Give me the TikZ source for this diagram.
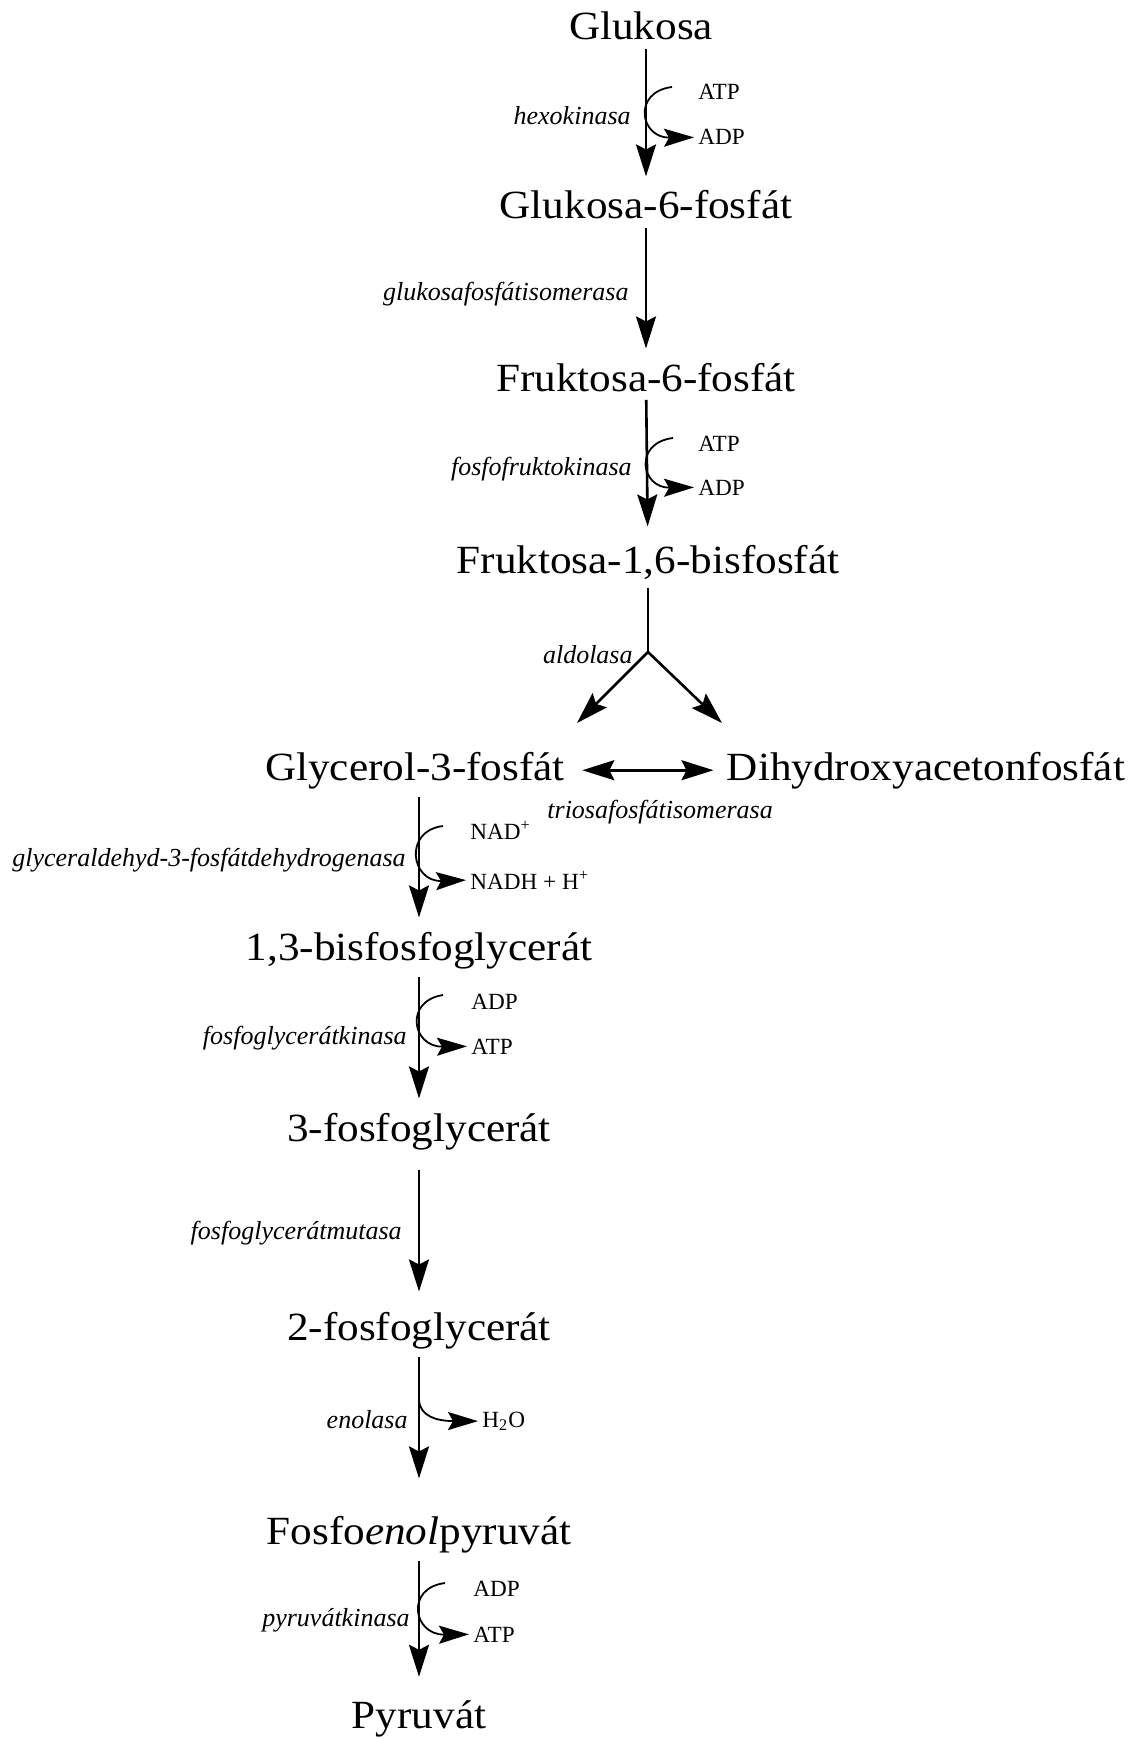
\documentclass[tikz,border=0pt]{standalone}
\usepackage{fontspec}
\setmainfont{Liberation Serif}
\newfontfamily\metfont{Liberation Serif}[FakeStretch=1.08]
\usetikzlibrary{arrows.meta}

\tikzset{
  met/.style={font=\metfont\fontsize{20}{24}\selectfont, inner sep=4pt, anchor=base},
  enz/.style={font=\fontsize{13}{15}\selectfont\itshape, inner sep=0pt, anchor=base east},
  cof/.style={font=\fontsize{11.6}{14}\selectfont, inner sep=2pt, anchor=base west},
  head/.style={-{Stealth[length=16pt,width=10pt,inset=2.5pt]}},
  reac/.style={line width=1.3pt, head, shorten >=3pt},
  side/.style={line width=0.9pt, -{Stealth[length=15pt,width=9pt,inset=2.5pt]}}
}

\begin{document}
\begin{tikzpicture}[x=0.5pt,y=-0.5pt]
  \useasboundingbox (0,0) rectangle (1135,1739);

  \node[met] (glc) at (641,40) {Glukosa};
  \node[met] (g6p) at (646,219) {Glukosa-6-fosfát};
  \node[met] (f6p) at (646,391) {Fruktosa-6-fosfát};
  \node[met] (f16) at (648,573) {Fruktosa-1,6-bisfosfát};
  \node[met] (g3p) at (415,780) {Glycerol-3-fosfát};
  \node[met] (dhap) at (926,780) {Dihydroxyacetonfosfát};
  \node[met] (bpg) at (419,960) {1,3-bisfosfoglycerát};
  \node[met] (pg3) at (419,1141) {3-fosfoglycerát};
  \node[met] (pg2) at (419,1340) {2-fosfoglycerát};
  \node[met] (pep) at (419,1544) {Fosfo\textit{enol}pyruvát};
  \node[met] (pyr) at (419,1728) {Pyruvát};

  \node[enz] (hk) at (631,125) {hexokinasa};
  \node[enz] (gpi) at (629,300) {glukosafosfátisomerasa};
  \node[enz] (pfk) at (632,475) {fosfofruktokinasa};
  \node[enz] (ald) at (633,663) {aldolasa};
  \node[enz,anchor=base west] (tpi) at (547,818) {triosafosfátisomerasa};
  \node[enz] (gapdh) at (406,866) {glyceraldehyd-3-fosfátdehydrogenasa};
  \node[enz] (pgk) at (407,1044) {fosfoglycerátkinasa};
  \node[enz] (pgm) at (402,1239) {fosfoglycerátmutasa};
  \node[enz] (eno) at (408,1428) {enolasa};
  \node[enz] (pk) at (410,1626) {pyruvátkinasa};

  \node[cof] (atp1) at (694,100) {ATP};
  \node[cof] (adp1) at (694,145) {ADP};
  \node[cof] (atp2) at (694,451) {ATP};
  \node[cof] (adp2) at (694,495) {ADP};
  \node[cof] (nad) at (466,839) {NAD\textsuperscript{+}};
  \node[cof] (nadh) at (466,889) {NADH + H\textsuperscript{+}};
  \node[cof] (adp3) at (467,1009) {ADP};
  \node[cof] (atp3) at (467,1054) {ATP};
  \node[cof] (h2o) at (478,1427) {H\textsubscript{2}O};
  \node[cof] (adp4) at (469,1596) {ADP};
  \node[cof] (atp4) at (469,1642) {ATP};

  \coordinate (split) at (648,652);
  \coordinate (splitL) at (577,723);
  \coordinate (splitR) at (722,723);
  \coordinate (s1) at (672,87);
  \coordinate (s2) at (673,438);
  \coordinate (s3) at (443,826);
  \coordinate (s4) at (443,995);
  \coordinate (s5) at (419,1386);
  \coordinate (s6) at (445,1583);

  \draw[reac] (glc.south -| g6p) -- (g6p);
  \draw[reac] (g6p) -- (f6p);
  \draw[reac,shorten >=5pt] (f6p) -- (f16);
  \draw[line width=1.3pt] (f16) -- (split);
  \draw[reac,shorten >=0pt] (split) -- (splitL);
  \draw[reac,shorten >=0pt] (split) -- (splitR);
  \draw[reac,{Stealth[length=16pt,width=10pt,inset=2.5pt]}-{Stealth[length=16pt,width=10pt,inset=2.5pt]},
    shorten <=4.5pt,shorten >=2.5pt] (g3p) -- (dhap);
  \draw[reac] (g3p.south -| bpg) -- (bpg);
  \draw[reac] (bpg) -- (pg3);
  \draw[reac,shorten <=6pt,shorten >=6pt] (pg3) -- (pg2);
  \draw[reac,shorten >=14.5pt] (pg2) -- (pep);
  \draw[reac,shorten >=7.5pt] (pep) -- (pyr);

  \draw[side] (s1) .. controls (632,92) and (640,138) .. (adp1.west);
  \draw[side] (s2) .. controls (633,443) and (641,488) .. (adp2.west);
  \draw[side] (s3) .. controls (403,831) and (411,882) .. (nadh.west);
  \draw[side] (s4) .. controls (404,1001) and (412,1047) .. (atp3.west);
  \draw[side] (s5) -- (419,1400) .. controls (420,1416) and (436,1421) .. (h2o.west);
  \draw[side] (s6) .. controls (405,1588) and (413,1635) .. (atp4.west);
\end{tikzpicture}
\end{document}
